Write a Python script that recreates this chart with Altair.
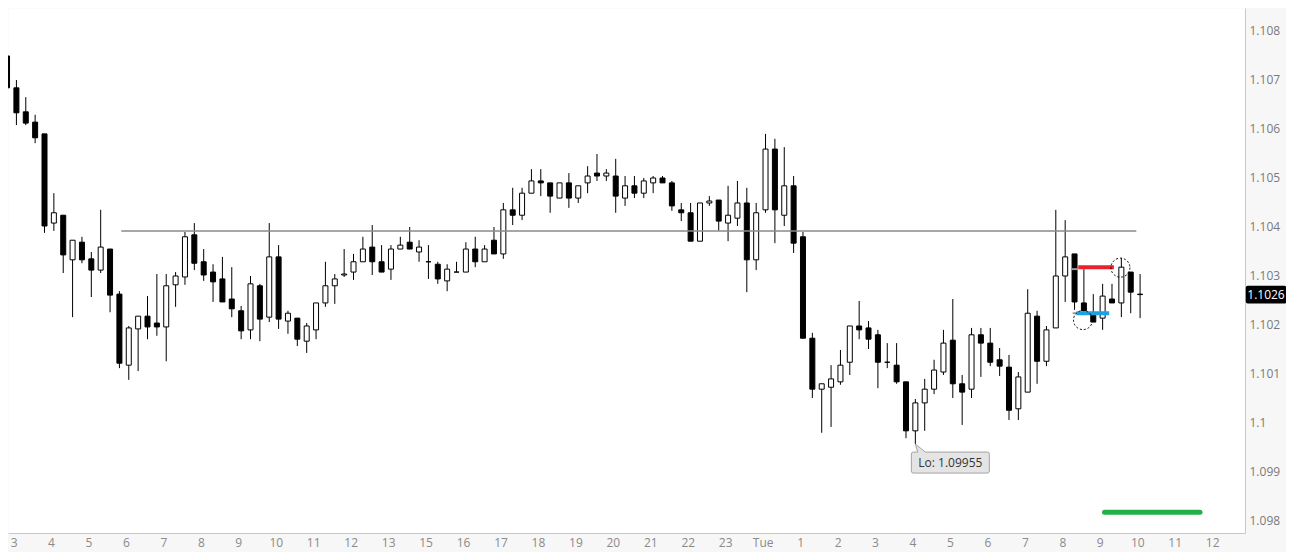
import altair as alt
import pandas as pd
import numpy as np

# ---- 15-minute EURUSD candles ----
opens = [1.10747, 1.10682, 1.10633, 1.10612, 1.10588, 1.10406, 1.10422, 1.10331, 1.10367, 1.10333,
         1.10310, 1.10353, 1.10261, 1.10116, 1.10190, 1.10216, 1.10202, 1.10194, 1.10280, 1.10296,
         1.10382, 1.10327, 1.10306, 1.10292, 1.10251, 1.10227, 1.10188, 1.10278, 1.10214, 1.10337,
         1.10206, 1.10212, 1.10165, 1.10188, 1.10243, 1.10278, 1.10300, 1.10306, 1.10327, 1.10357,
         1.10327, 1.10312, 1.10353, 1.10367, 1.10347, 1.10327, 1.10322, 1.10288, 1.10306, 1.10306,
         1.10353, 1.10327, 1.10371, 1.10343, 1.10433, 1.10422, 1.10467, 1.10492, 1.10488, 1.10457,
         1.10488, 1.10457, 1.10488, 1.10508, 1.10502, 1.10502, 1.10457, 1.10482, 1.10467, 1.10488,
         1.10498, 1.10488, 1.10433, 1.10427, 1.10369, 1.10447, 1.10453, 1.10406, 1.10416, 1.10447,
         1.10331, 1.10433, 1.10557, 1.10422, 1.10482, 1.10378, 1.10171, 1.10067, 1.10071, 1.10082,
         1.10122, 1.10196, 1.10192, 1.10178, 1.10122, 1.10116, 1.10082, 1.09982, 1.10039, 1.10067,
         1.10102, 1.10167, 1.10078, 1.10067, 1.10178, 1.10161, 1.10127, 1.10112, 1.10027, 1.10061,
         1.10216, 1.10124, 1.10192, 1.10298, 1.10343, 1.10243, 1.10218, 1.10212, 1.10251, 1.10243,
         1.10306, 1.10261]
highs = [1.10751, 1.10698, 1.10663, 1.10627, 1.10588, 1.10467, 1.10422, 1.10371, 1.10378, 1.10347,
         1.10433, 1.10353, 1.10267, 1.10196, 1.10216, 1.10257, 1.10302, 1.10302, 1.10306, 1.10388,
         1.10406, 1.10353, 1.10322, 1.10337, 1.10316, 1.10237, 1.10298, 1.10282, 1.10406, 1.10361,
         1.10227, 1.10212, 1.10202, 1.10243, 1.10327, 1.10302, 1.10353, 1.10343, 1.10378, 1.10402,
         1.10361, 1.10361, 1.10378, 1.10398, 1.10371, 1.10361, 1.10327, 1.10322, 1.10327, 1.10367,
         1.10378, 1.10361, 1.10398, 1.10447, 1.10478, 1.10478, 1.10516, 1.10516, 1.10488, 1.10488,
         1.10508, 1.10482, 1.10522, 1.10547, 1.10516, 1.10537, 1.10502, 1.10502, 1.10498, 1.10502,
         1.10502, 1.10492, 1.10447, 1.10447, 1.10447, 1.10461, 1.10453, 1.10482, 1.10492, 1.10478,
         1.10447, 1.10588, 1.10578, 1.10561, 1.10502, 1.10388, 1.10182, 1.10078, 1.10116, 1.10147,
         1.10196, 1.10247, 1.10206, 1.10188, 1.10161, 1.10161, 1.10082, 1.10047, 1.10088, 1.10127,
         1.10188, 1.10251, 1.10096, 1.10192, 1.10192, 1.10192, 1.10151, 1.10137, 1.10102, 1.10271,
         1.10227, 1.10196, 1.10433, 1.10412, 1.10343, 1.10312, 1.10261, 1.10282, 1.10282, 1.10335,
         1.10306, 1.10302]
lows = [1.10661, 1.10606, 1.10606, 1.10569, 1.10386, 1.10390, 1.10304, 1.10214, 1.10324, 1.10255,
        1.10304, 1.10224, 1.10110, 1.10086, 1.10104, 1.10169, 1.10176, 1.10124, 1.10235, 1.10280,
        1.10310, 1.10288, 1.10245, 1.10245, 1.10214, 1.10169, 1.10169, 1.10165, 1.10204, 1.10190,
        1.10180, 1.10155, 1.10141, 1.10169, 1.10235, 1.10241, 1.10296, 1.10290, 1.10327, 1.10300,
        1.10306, 1.10290, 1.10353, 1.10353, 1.10327, 1.10292, 1.10282, 1.10267, 1.10306, 1.10306,
        1.10316, 1.10327, 1.10343, 1.10333, 1.10402, 1.10412, 1.10467, 1.10461, 1.10427, 1.10457,
        1.10437, 1.10447, 1.10467, 1.10492, 1.10492, 1.10427, 1.10441, 1.10457, 1.10457, 1.10467,
        1.10488, 1.10431, 1.10410, 1.10369, 1.10369, 1.10441, 1.10390, 1.10369, 1.10400, 1.10265,
        1.10310, 1.10427, 1.10365, 1.10400, 1.10345, 1.10171, 1.10049, 1.09978, 1.09990, 1.10076,
        1.10096, 1.10169, 1.10149, 1.10069, 1.10110, 1.10078, 1.09967, 1.09955, 1.09982, 1.10057,
        1.10096, 1.10049, 1.09994, 1.10049, 1.10092, 1.10114, 1.10094, 1.10004, 1.10004, 1.10061,
        1.10078, 1.10114, 1.10192, 1.10245, 1.10229, 1.10227, 1.10204, 1.10188, 1.10243, 1.10214,
        1.10222, 1.10212]
closes = [1.10682, 1.10631, 1.10610, 1.10580, 1.10400, 1.10427, 1.10341, 1.10371, 1.10331, 1.10310,
          1.10357, 1.10259, 1.10120, 1.10192, 1.10216, 1.10194, 1.10194, 1.10278, 1.10298, 1.10378,
          1.10324, 1.10300, 1.10286, 1.10245, 1.10231, 1.10186, 1.10282, 1.10210, 1.10337, 1.10210,
          1.10222, 1.10169, 1.10196, 1.10243, 1.10278, 1.10292, 1.10302, 1.10327, 1.10353, 1.10327,
          1.10306, 1.10353, 1.10361, 1.10353, 1.10357, 1.10327, 1.10292, 1.10312, 1.10306, 1.10353,
          1.10327, 1.10353, 1.10343, 1.10433, 1.10422, 1.10467, 1.10492, 1.10488, 1.10461, 1.10488,
          1.10457, 1.10482, 1.10502, 1.10502, 1.10508, 1.10461, 1.10482, 1.10467, 1.10492, 1.10498,
          1.10488, 1.10441, 1.10427, 1.10369, 1.10447, 1.10451, 1.10410, 1.10422, 1.10447, 1.10331,
          1.10427, 1.10557, 1.10433, 1.10482, 1.10365, 1.10171, 1.10067, 1.10078, 1.10088, 1.10116,
          1.10196, 1.10188, 1.10169, 1.10122, 1.10122, 1.10082, 1.09982, 1.10039, 1.10067, 1.10106,
          1.10161, 1.10078, 1.10061, 1.10178, 1.10161, 1.10122, 1.10114, 1.10024, 1.10092, 1.10222,
          1.10124, 1.10188, 1.10298, 1.10337, 1.10245, 1.10227, 1.10204, 1.10257, 1.10243, 1.10316,
          1.10265, 1.10260]

hour_labels = ["3", "4", "5", "6", "7", "8", "9", "10", "11", "12", "13",
               "15", "16", "17", "18", "19", "20", "21", "22", "23", "Tue",
               "1", "2", "3", "4", "5", "6", "7", "8", "9", "10", "11", "12"]
price_ticks = [1.098, 1.099, 1.100, 1.101, 1.102, 1.103, 1.104,
               1.105, 1.106, 1.107, 1.108]

# drawn objects (candle-index, price)
resistance = {"from": 12.2, "to": 120.6, "price": 1.10390}
red_level = {"from": 114.4, "to": 118.2, "price": 1.10316}
blue_level = {"from": 114.2, "to": 117.7, "price": 1.10222}
green_level = {"from": 117.2, "to": 127.4, "price": 1.09816}
red_handle = {"from": 113.6, "to": 114.4, "price": 1.10312}
blue_handle = {"from": 113.8, "to": 114.2, "price": 1.10222}
circle_idx = [118.9, 114.9]
circle_price = [1.10315, 1.10208]
lo_idx = 97
lo_price = 1.09955
last_price = 1.1026

# ---- tables ----
df = pd.DataFrame({"i": np.arange(len(opens)), "open": opens, "high": highs,
                   "low": lows, "close": closes})
df["dir"] = np.where(df["close"] >= df["open"], "up", "down")

W, H = 1237, 525
xs = alt.Scale(domain=[0.636, 131.67], nice=False, zero=False)
ys = alt.Scale(domain=[1.097735, 1.108449], nice=False, zero=False)

# one label per hour slot (4 candles per hour)
hours_df = pd.DataFrame({"i": [0.75 + 4 * j for j in range(len(hour_labels))],
                         "txt": hour_labels})

x_axis = alt.Axis(labels=False, ticks=False, grid=False, domainColor="#c8c8c8", title="")
y_axis = alt.Axis(orient="right", values=price_ticks, format=".3~f", ticks=False, grid=False,
                  labelOverlap=False, labelFlush=False,
                  domainColor="#c8c8c8", labelColor="#7a7a7a", labelFont="Open Sans",
                  labelFontSize=12, labelPadding=4, title="")

base = alt.Chart(df)
wicks = base.mark_rule(color="black", strokeWidth=1, clip=True).encode(
    x=alt.X("i:Q", scale=xs, axis=x_axis),
    y=alt.Y("low:Q", scale=ys, axis=y_axis),
    y2="high:Q",
)
bodies = base.mark_bar(size=5, stroke="black", strokeWidth=1, clip=True).encode(
    x=alt.X("i:Q", scale=xs),
    y=alt.Y("open:Q", scale=ys),
    y2="close:Q",
    fill=alt.Fill("dir:N", scale=alt.Scale(domain=["up", "down"], range=["white", "black"]), legend=None),
)

hour_text = alt.Chart(hours_df).mark_text(font="Open Sans", fontSize=12, color="#8a8a8a",
                                          baseline="middle", align="center").encode(
    x=alt.X("i:Q", scale=xs), y=alt.value(H + 10), text="txt:N")


def level(d, color, width, cap="butt"):
    t = pd.DataFrame({"i": [d["from"]], "b": [d["to"]], "low": [d["price"]]})
    return alt.Chart(t).mark_rule(color=color, strokeWidth=width, strokeCap=cap).encode(
        x=alt.X("i:Q", scale=xs), x2="b:Q",
        y=alt.Y("low:Q", scale=ys))


res_line = level(resistance, "#8a8a8a", 1.5)
red_h = level(red_handle, "#9a9a9a", 2)
blue_h = level(blue_handle, "#9a9a9a", 2)
red_line = level(red_level, "#e8212a", 4)
blue_line = level(blue_level, "#1aa3e0", 4)
green_line = level(green_level, "#22b04b", 5, "round")

circ_df = pd.DataFrame({"i": circle_idx, "low": circle_price})
circles = alt.Chart(circ_df).mark_point(shape="circle", size=361, filled=False, stroke="black",
                                        strokeWidth=1, strokeDash=[2, 2], opacity=1).encode(
    x=alt.X("i:Q", scale=xs), y=alt.Y("low:Q", scale=ys))

lo_df = pd.DataFrame({"i": [lo_idx], "low": [lo_price], "txt": ["Lo: %.5f" % lo_price]})
callout_path = ("M0,0 L0.25,0.2 L1.8,0.2 Q1.85,0.2 1.85,0.25 L1.85,0.675 Q1.85,0.725 1.8,0.725 "
                "L-0.05,0.725 Q-0.1,0.725 -0.1,0.675 L-0.1,0.25 Q-0.1,0.2 -0.05,0.2 L0.06,0.2 Z")
lo_box = alt.Chart(lo_df).mark_point(shape=callout_path, size=6400, filled=True, fill="#e4e4e4",
                                     stroke="#a3a3a3", strokeWidth=1, opacity=1).encode(
    x=alt.X("i:Q", scale=xs), y=alt.Y("low:Q", scale=ys))
lo_text = alt.Chart(lo_df).mark_text(dx=35, dy=18.5, font="Open Sans", fontSize=12,
                                     color="#333333").encode(
    x=alt.X("i:Q", scale=xs), y=alt.Y("low:Q", scale=ys), text="txt:N")

last_df = pd.DataFrame({"low": [last_price], "txt": ["%.4f" % last_price]})
box_path = ("M-0.9,-0.44 L0.9,-0.44 Q1,-0.44 1,-0.34 L1,0.34 Q1,0.44 0.9,0.44 "
            "L-0.9,0.44 Q-1,0.44 -1,0.34 L-1,-0.34 Q-1,-0.44 -0.9,-0.44 Z")
last_box = alt.Chart(last_df).mark_point(shape=box_path, size=1640, filled=True, fill="black",
                                         strokeWidth=0, opacity=1).encode(
    x=alt.value(W + 21), y=alt.Y("low:Q", scale=ys))
last_text = alt.Chart(last_df).mark_text(font="Open Sans", fontSize=12, color="white").encode(
    x=alt.value(W + 21), y=alt.Y("low:Q", scale=ys), text="txt:N")

chart = alt.layer(wicks, bodies, hour_text, res_line, red_h, blue_h, red_line, blue_line,
                  green_line, circles, lo_box, lo_text, last_box, last_text).properties(
    width=W, height=H, background="#f7f7f7",
    autosize=alt.AutoSizeParams(type="none"),
    padding={"left": 0, "top": 0, "right": 41, "bottom": 19},
).configure_view(fill="white", stroke="transparent")

chart.save("out.html", embed_options={"renderer": "svg", "actions": False})
